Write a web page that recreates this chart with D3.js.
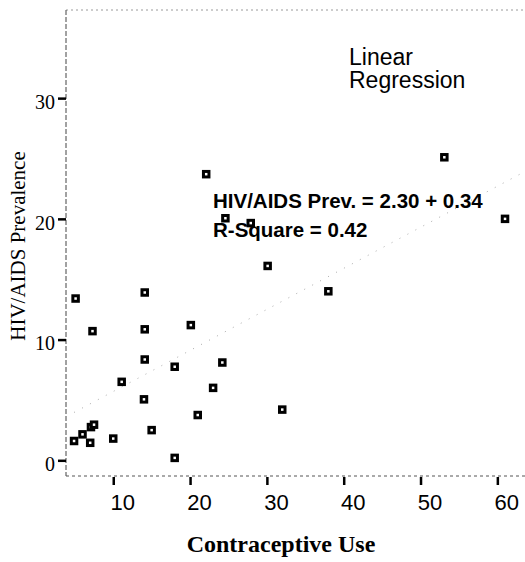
<!DOCTYPE html>
<html>
<head>
<meta charset="utf-8">
<script src="https://cdn.jsdelivr.net/npm/d3@7"></script>
<style>
  html, body { margin: 0; padding: 0; background: #fff; }
  svg { display: block; }
</style>
</head>
<body>
<svg id="chart" width="525" height="562"></svg>
<script>
// ---- data ----
const contraceptiveUse = [5.1, 7.3, 14.1, 14.1, 14.1, 20.1, 18.0, 24.2, 23.0, 11.1,
  30.1, 38.0, 24.6, 27.9, 61.0, 22.1, 53.1, 14.0, 32.0, 21.0,
  15.0, 10.0, 4.9, 6.0, 7.0, 7.1, 7.5, 18.0];
const hivPrevalence = [13.4, 10.7, 13.9, 10.85, 8.35, 11.2, 7.75, 8.1, 6.0, 6.5,
  16.1, 14.0, 20.05, 19.65, 20.0, 23.7, 25.1, 5.05, 4.2, 3.75,
  2.5, 1.8, 1.6, 2.15, 1.45, 2.75, 2.95, 0.2];
const xTicks = [10, 20, 30, 40, 50, 60];
const yTicks = [0, 10, 20, 30];
const intercept = 2.30;
const slope = 0.34;
const titleLines = ["Linear", "Regression"];
const equationLines = ["HIV/AIDS Prev. = 2.30 + 0.34", "R-Square = 0.42"];
const xTitle = "Contraceptive Use";
const yTitle = "HIV/AIDS Prevalence";

// ---- layout ----
const svg = d3.select("#chart");
const mLeft = 66, mRight = 525, mTop = 10, mBottom = 476;
const x = d3.scaleLinear().domain([3.85, 63.6]).range([mLeft, mRight]);
const y = d3.scaleLinear().domain([-1.3, 37.3]).range([mBottom, mTop]);
const serif = "'Liberation Serif', 'Times New Roman', Times, serif";
const sans = "'Liberation Sans', Arial, Helvetica, sans-serif";

// frame lines
svg.append("line").attr("x1", mLeft).attr("x2", mRight).attr("y1", mTop).attr("y2", mTop)
  .attr("stroke", "#9a9a9a").attr("stroke-width", 1).attr("stroke-dasharray", "2,3");
svg.append("line").attr("x1", mLeft).attr("x2", mLeft).attr("y1", mTop).attr("y2", mBottom)
  .attr("stroke", "#444").attr("stroke-width", 1).attr("stroke-dasharray", "5,2");
svg.append("line").attr("x1", mLeft).attr("x2", mRight).attr("y1", mBottom).attr("y2", mBottom)
  .attr("stroke", "#555").attr("stroke-width", 1).attr("stroke-dasharray", "3,3");

// y axis
const yAxis = svg.append("g").attr("transform", `translate(${mLeft},0)`)
  .call(d3.axisLeft(y).tickValues(yTicks).tickSize(8).tickPadding(3).tickFormat(d3.format("d")));
yAxis.select(".domain").remove();
yAxis.selectAll(".tick line").attr("stroke", "#000").attr("stroke-width", 2.5);
yAxis.selectAll(".tick text").attr("font-family", serif).attr("font-size", 20)
  .attr("fill", "#000").attr("dy", "0.52em");

// x axis
const xAxis = svg.append("g").attr("transform", `translate(0,${mBottom})`)
  .call(d3.axisBottom(x).tickValues(xTicks).tickSize(9).tickPadding(9).tickFormat(d3.format("d")));
xAxis.select(".domain").remove();
xAxis.selectAll(".tick line").attr("stroke", "#000").attr("stroke-width", 2.5).attr("y1", 1);
xAxis.selectAll(".tick text").attr("font-family", sans).attr("font-size", 22)
  .attr("fill", "#000").attr("dx", 9);

// regression line (faint, dotted)
const xr = d3.extent(contraceptiveUse);
svg.append("line")
  .attr("x1", x(xr[0])).attr("y1", y(intercept + slope * xr[0]))
  .attr("x2", x(63.6)).attr("y2", y(intercept + slope * 63.6))
  .attr("stroke", "#aaa").attr("stroke-width", 1).attr("stroke-dasharray", "1,8");

// points
const pts = contraceptiveUse.map((v, i) => ({cx: v, cy: hivPrevalence[i]}));
svg.append("g").selectAll("rect").data(pts).join("rect")
  .attr("x", d => x(d.cx) - 2.75).attr("y", d => y(d.cy) - 2.75)
  .attr("width", 5.5).attr("height", 5.5)
  .attr("fill", "#fff").attr("stroke", "#000").attr("stroke-width", 3);

// annotation texts
const t1 = svg.append("text").attr("font-family", sans).attr("font-size", 23).attr("fill", "#000");
titleLines.forEach((s, i) => t1.append("tspan").attr("x", 349).attr("y", 65 + i * 23).text(s));

const t2 = svg.append("text").attr("font-family", sans).attr("font-size", 20.5)
  .attr("font-weight", "bold").attr("fill", "#000");
equationLines.forEach((s, i) => t2.append("tspan").attr("x", 213).attr("y", 208 + i * 29).text(s));

// axis titles
svg.append("text").attr("x", 281).attr("y", 552).attr("text-anchor", "middle")
  .attr("font-family", serif).attr("font-size", 24).attr("font-weight", "bold")
  .attr("fill", "#000").text(xTitle);
svg.append("text").attr("transform", "translate(25,246) rotate(-90)").attr("text-anchor", "middle")
  .attr("font-family", serif).attr("font-size", 21).attr("fill", "#000").text(yTitle);
</script>
</body>
</html>
